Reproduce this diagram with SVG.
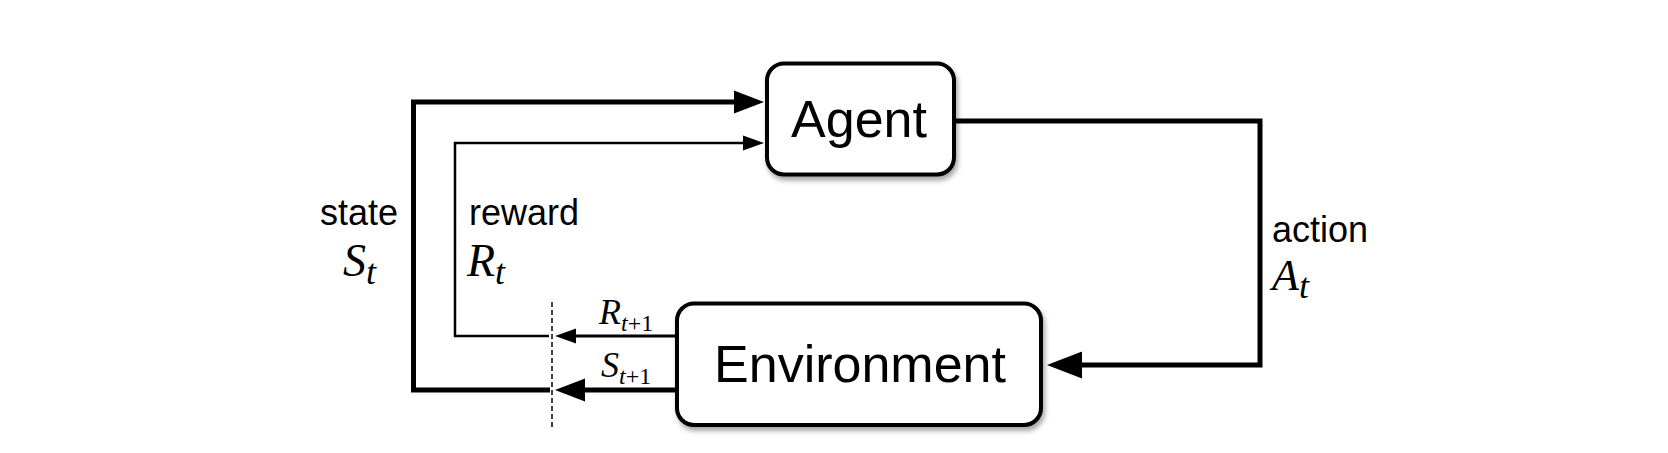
<svg xmlns="http://www.w3.org/2000/svg" width="1668" height="453" viewBox="0 0 1668 453">
<style>
.box{fill:#fff;stroke:#000;stroke-width:4;filter:url(#sh)}
.big{font-family:"Liberation Sans",Arial,sans-serif;fill:#000;text-anchor:middle}
.lbl{font-family:"Liberation Sans",Arial,sans-serif;font-size:36px;fill:#000}
.m{font-family:"Liberation Serif","Times New Roman",serif;font-style:italic;fill:#000}
.thick{fill:none;stroke:#000;stroke-width:5}
.thin{fill:none;stroke:#000;stroke-width:2.5}
</style>
<defs>
<filter id="sh" x="-10%" y="-10%" width="130%" height="130%">
<feDropShadow dx="2" dy="4" stdDeviation="2.5" flood-color="#000" flood-opacity="0.35"/>
</filter>
<marker id="aBig" markerUnits="userSpaceOnUse" markerWidth="40" markerHeight="30" refX="0" refY="12" orient="auto" overflow="visible">
<path d="M0,0.5 L30,12 L0,23.5 z" fill="#000"/>
</marker>
<marker id="aSmall" markerUnits="userSpaceOnUse" markerWidth="30" markerHeight="20" refX="0" refY="8" orient="auto" overflow="visible">
<path d="M0,0.5 L21,8 L0,15.5 z" fill="#000"/>
</marker>
<marker id="aAct" markerUnits="userSpaceOnUse" markerWidth="40" markerHeight="30" refX="0" refY="14" orient="auto" overflow="visible">
<path d="M0,0.5 L35,14 L0,27.5 z" fill="#000"/>
</marker>
</defs>
<g id="connectors">
<path class="thick" d="M550,390 H413.5 V102 H734" marker-end="url(#aBig)"/>
<path class="thin" d="M549,336 H455 V143 H743" marker-end="url(#aSmall)"/>
<path d="M677,336 H576" fill="none" stroke="#000" stroke-width="3" marker-end="url(#aSmall)"/>
<path class="thick" d="M677,390 H585" marker-end="url(#aBig)"/>
<path class="thick" d="M954,121 H1260 V365 H1082" marker-end="url(#aAct)"/>
<line x1="552" y1="302" x2="552" y2="428" stroke="#000" stroke-width="1.5" stroke-dasharray="5,3"/>
</g>
<g id="agent">
<rect class="box" x="767" y="63.5" width="187" height="111" rx="17"/>
<text class="big" x="859" y="137" font-size="52">Agent</text>
</g>
<g id="environment">
<rect class="box" x="677" y="303.5" width="364" height="121.5" rx="17"/>
<text class="big" x="860" y="382" font-size="52">Environment</text>
</g>
<g id="labels">
<text class="lbl" x="320" y="225">state</text>
<text class="m" x="343" y="276" font-size="46">S<tspan font-size="36" dy="8">t</tspan></text>
<text class="lbl" x="469" y="225">reward</text>
<text class="m" x="467" y="276" font-size="46">R<tspan font-size="36" dy="8">t</tspan></text>
<text class="lbl" x="1272" y="242">action</text>
<text class="m" x="1272" y="290" font-size="44">A<tspan font-size="36" dy="8">t</tspan></text>
<text class="m" x="599" y="324" font-size="36">R<tspan font-size="24" dy="7">t</tspan><tspan font-size="24" font-style="normal">+1</tspan></text>
<text class="m" x="601" y="377" font-size="36">S<tspan font-size="24" dy="7">t</tspan><tspan font-size="24" font-style="normal">+1</tspan></text>
</g>
</svg>
